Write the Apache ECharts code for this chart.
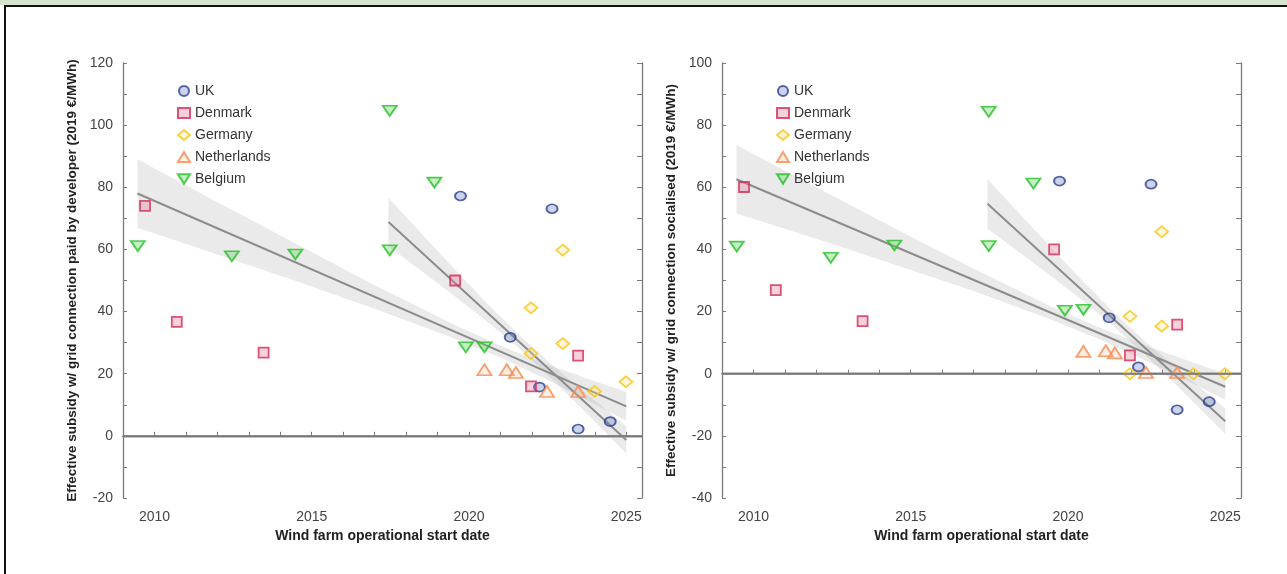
<!DOCTYPE html>
<html>
<head>
<meta charset="utf-8">
<script src="https://cdn.jsdelivr.net/npm/echarts@6/dist/echarts.min.js"></script>
<style>
  html, body { margin: 0; padding: 0; background: #ffffff; }
  #topband { position: absolute; left: 0; top: 0; width: 1287px; height: 5px; background: #d6e3cd; }
  #frameTop { position: absolute; left: 4px; top: 5px; width: 1283px; height: 2px; background: #111; }
  #frameLeft { position: absolute; left: 4px; top: 5px; width: 2px; height: 569px; background: #111; }
  #chart { position: absolute; left: 0; top: 0; width: 1287px; height: 574px; }
</style>
</head>
<body>
<div id="chart"></div>
<div id="topband"></div>
<div id="frameTop"></div>
<div id="frameLeft"></div>
<script>
// ---------- data ----------
const ukYear = [2019.73, 2021.31, 2022.24, 2022.64, 2023.47, 2024.49];
const ukPaid = [77.2, 31.7, 15.7, 73.1, 2.2, 4.6];
const ukSocialised = [62.0, 18.0, 2.2, 61.0, -11.6, -9.0];

const dkYear = [2009.70, 2010.71, 2013.47, 2019.56, 2021.97, 2023.47];
const dkPaid = [74.0, 36.7, 26.8, 50.0, 15.9, 25.8];
const dkSocialised = [60.1, 26.9, 16.9, 40.0, 5.9, 15.8];

const deYear = [2021.97, 2021.97, 2022.98, 2022.98, 2023.99, 2024.99];
const dePaid = [41.2, 26.5, 59.8, 29.7, 14.3, 17.4];
const deSocialised = [18.5, 0.0, 45.7, 15.3, 0.0, 0.0];

const nlYear = [2020.49, 2021.20, 2021.49, 2022.48, 2023.47];
const nlPaid = [21.3, 21.3, 20.4, 14.3, 14.3];
const nlSocialised = [7.2, 7.4, 6.7, 0.4, 0.4];

const beYear = [2009.47, 2012.46, 2014.48, 2017.48, 2017.48, 2018.90, 2019.90, 2020.49];
const bePaid = [61.1, 57.8, 58.4, 104.6, 59.7, 81.5, 28.5, 28.5];
const beSocialised = [40.9, 37.3, 41.3, 84.3, 41.1, 61.2, 20.3, 20.6];

// fitted trend lines (end points)
const fitAllX = [2009.46, 2025.0];
const fitAllPaid = [78.0, 9.5];
const fitAllSocialised = [62.6, -4.2];
const fitRecentX = [2017.44, 2025.0];
const fitRecentPaid = [68.8, -1.3];
const fitRecentSocialised = [54.7, -15.3];

// confidence bands (edges)
const bandAllX = [2009.46, 2012, 2014.5, 2017, 2019.5, 2021, 2022.5, 2024, 2025];
const bandAllPaidUpper = [89.0, 75.2, 61.8, 48.5, 35.9, 29.0, 23.0, 17.6, 14.1];
const bandAllPaidLower = [67.0, 58.4, 49.8, 40.9, 31.5, 25.2, 18.0, 10.2, 4.9];
const bandAllSocUpper = [73.6, 60.0, 46.7, 33.8, 21.5, 14.9, 8.9, 3.5, 0.0];
const bandAllSocLower = [51.6, 43.4, 35.1, 26.6, 17.3, 11.1, 4.1, -3.3, -8.4];

const bandRecentX = [2017.44, 2018.5, 2019.5, 2020.5, 2021.5, 2022.5, 2023.5, 2024.5, 2025];
const bandRecentPaidUpper = [76.6, 65.0, 54.1, 43.4, 33.4, 24.1, 15.5, 7.3, 3.1];
const bandRecentPaidLower = [61.0, 53.0, 45.3, 37.4, 29.0, 19.7, 9.7, -0.5, -5.7];
const bandRecentSocUpper = [62.7, 51.1, 40.1, 29.5, 19.3, 10.0, 1.4, -7.0, -11.2];
const bandRecentSocLower = [46.7, 38.7, 31.1, 23.3, 14.9, 5.6, -4.2, -14.4, -19.4];

const yTicksPaid = { min: -20, max: 120 };
const yTicksSoc = { min: -40, max: 100 };
const xRange = { min: 2009, max: 2025.5 };

// ---------- styling ----------
const FONT = '"Liberation Sans", Arial, Helvetica, sans-serif';
const AXIS_COLOR = '#7a7a7a';
const countries = [
  { name: 'UK', year: ukYear, paid: ukPaid, soc: ukSocialised, symbol: 'circle', size: [11, 9], stroke: '#2a3f92', fill: 'rgba(90,110,180,0.38)' },
  { name: 'Denmark', year: dkYear, paid: dkPaid, soc: dkSocialised, symbol: 'rect', size: [10, 10], stroke: '#d42a55', fill: 'rgba(230,120,150,0.42)' },
  { name: 'Germany', year: deYear, paid: dePaid, soc: deSocialised, symbol: 'diamond', size: [13, 11], stroke: '#f7c51c', fill: 'rgba(250,225,120,0.35)' },
  { name: 'Netherlands', year: nlYear, paid: nlPaid, soc: nlSocialised, symbol: 'triangle', size: [14, 11], stroke: '#f68a4e', fill: 'rgba(250,190,150,0.3)' },
  { name: 'Belgium', year: beYear, paid: bePaid, soc: beSocialised, symbol: 'path://M0,0L10,0L5,8Z', size: [14, 10], stroke: '#25bf25', fill: 'rgba(100,210,100,0.45)' }
];

function zip(xs, ys) { return xs.map((x, i) => [x, ys[i]]); }

function makeXAxis(gridIndex) {
  return [{
    type: 'value', gridIndex: gridIndex, position: 'bottom',
    min: xRange.min, max: xRange.max, interval: 1,
    name: 'Wind farm operational start date', nameLocation: 'middle', nameGap: 30,
    nameTextStyle: { fontFamily: FONT, fontSize: 14, fontWeight: 'bold', color: '#222' },
    axisLine: { show: true, lineStyle: { color: AXIS_COLOR, width: 1.3 } },
    axisTick: { show: true, inside: true, length: 4, lineStyle: { color: AXIS_COLOR } },
    axisLabel: { fontFamily: FONT, fontSize: 14, color: '#444', margin: 12,
      formatter: v => (Math.abs(v % 5) < 1e-6 ? String(v) : '') },
    splitLine: { show: false }
  }, {
    type: 'value', gridIndex: gridIndex, position: 'top',
    min: xRange.min, max: xRange.max, interval: 1,
    axisLine: { show: true, lineStyle: { color: AXIS_COLOR, width: 1.3 } },
    axisTick: { show: false }, axisLabel: { show: false }, splitLine: { show: false }
  }];
}

function makeYAxis(gridIndex, range, name) {
  return [{
    type: 'value', gridIndex: gridIndex, position: 'left',
    min: range.min, max: range.max, interval: 10,
    name: name, nameLocation: 'middle', nameGap: 44, nameRotate: 90,
    nameTextStyle: { fontFamily: FONT, fontSize: 13.5, fontWeight: 'bold', color: '#222' },
    axisLine: { show: true, lineStyle: { color: AXIS_COLOR, width: 1.3 } },
    axisTick: { show: true, inside: true, length: 4, lineStyle: { color: AXIS_COLOR } },
    axisLabel: { fontFamily: FONT, fontSize: 14, color: '#444', margin: 10,
      formatter: v => (Math.abs(v % 20) < 1e-6 ? String(v) : '') },
    splitLine: { show: false }
  }, {
    type: 'value', gridIndex: gridIndex, position: 'right',
    min: range.min, max: range.max, interval: 10,
    axisLine: { show: true, lineStyle: { color: AXIS_COLOR, width: 1.3 } },
    axisTick: { show: true, inside: true, length: 5, lineStyle: { color: AXIS_COLOR } },
    axisLabel: { show: false }, splitLine: { show: false }
  }];
}

function bandSeries(xs, lo, hi, xi, yi) {
  return {
    type: 'custom', xAxisIndex: xi, yAxisIndex: yi, silent: true, z: 1,
    data: [[xs[0], lo[0]]],
    renderItem: function (params, api) {
      const pts = [];
      for (let i = 0; i < xs.length; i++) pts.push(api.coord([xs[i], hi[i]]));
      for (let i = xs.length - 1; i >= 0; i--) pts.push(api.coord([xs[i], lo[i]]));
      return { type: 'polygon', shape: { points: pts }, style: { fill: 'rgba(150,150,150,0.2)' } };
    }
  };
}

function fitSeries(xs, ys, xi, yi, withZero) {
  const s = {
    type: 'line', xAxisIndex: xi, yAxisIndex: yi, silent: true, z: 2,
    data: zip(xs, ys), symbol: 'none',
    lineStyle: { color: '#8c8c8c', width: 2 }
  };
  if (withZero) {
    s.markLine = {
      silent: true, symbol: ['none', 'none'], label: { show: false },
      lineStyle: { color: '#777', width: 1.5, type: 'solid' },
      data: [{ yAxis: 0 }]
    };
  }
  return s;
}

const series = [];
// left panel: axes x 0/1, y 0/1 ; right panel: x 2/3, y 2/3
series.push(bandSeries(bandAllX, bandAllPaidLower, bandAllPaidUpper, 0, 0));
series.push(bandSeries(bandRecentX, bandRecentPaidLower, bandRecentPaidUpper, 0, 0));
series.push(bandSeries(bandAllX, bandAllSocLower, bandAllSocUpper, 2, 2));
series.push(bandSeries(bandRecentX, bandRecentSocLower, bandRecentSocUpper, 2, 2));
series.push(fitSeries(fitAllX, fitAllPaid, 0, 0, true));
series.push(fitSeries(fitRecentX, fitRecentPaid, 0, 0, false));
series.push(fitSeries(fitAllX, fitAllSocialised, 2, 2, true));
series.push(fitSeries(fitRecentX, fitRecentSocialised, 2, 2, false));

countries.forEach(c => {
  [[c.paid, 0], [c.soc, 2]].forEach(([vals, ax]) => {
    series.push({
      type: 'scatter', name: c.name, xAxisIndex: ax, yAxisIndex: ax, z: 3,
      data: zip(c.year, vals), symbol: c.symbol, symbolSize: c.size,
      itemStyle: { color: c.fill, borderColor: c.stroke, borderWidth: 1.8 }
    });
  });
});

function makeLegend(left) {
  return {
    orient: 'vertical', left: left, top: 78, itemGap: 6, itemWidth: 12, itemHeight: 10,
    data: countries.map(c => c.name), selectedMode: false,
    textStyle: { fontFamily: FONT, fontSize: 14, color: '#333', lineHeight: 16 }
  };
}

const option = {
  backgroundColor: 'transparent',
  animation: false,
  grid: [
    { left: 123, top: 63, width: 519, height: 435 },
    { left: 722, top: 63, width: 519, height: 435 }
  ],
  legend: [makeLegend(172), makeLegend(771)],
  xAxis: [...makeXAxis(0), ...makeXAxis(1)],
  yAxis: [
    ...makeYAxis(0, yTicksPaid, 'Effective subsidy w/ grid connection paid by developer (2019 €/MWh)'),
    ...makeYAxis(1, yTicksSoc, 'Effective subsidy w/ grid connection socialised (2019 €/MWh)')
  ],
  series: series
};

const chart = echarts.init(document.getElementById('chart'), null, { renderer: 'canvas' });
chart.setOption(option);
</script>
</body>
</html>
